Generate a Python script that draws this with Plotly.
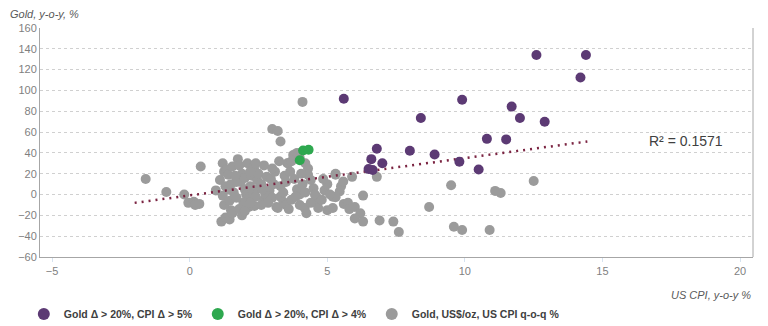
import plotly.graph_objects as go

# Purple: Gold change > 20%, CPI change > 5%
purple_cpi = [5.6, 9.9, 11.7, 12.0, 12.9, 8.4, 10.8, 11.5, 6.8, 8.0, 8.9, 6.6, 7.0, 9.8, 10.5, 6.5, 6.65, 12.6, 14.4, 14.2]
purple_gold = [92, 91, 84.5, 73.5, 70, 73.5, 53.5, 53, 44, 42, 38.5, 34, 30, 31.5, 24, 24.5, 23.5, 134, 134, 112.5]

# Green: Gold change > 20%, CPI change > 4%
green_cpi = [4.0, 4.12, 4.32]
green_gold = [33, 42.3, 43]

# Grey: all observations
grey_cpi = [-1.6, -0.85, -0.2, -0.05, 0.15, 0.35, 0.2, 0.4, 0.95,
            1.1, 1.2, 1.25, 1.35, 1.4, 1.2, 1.15, 1.3, 1.45, 1.5, 1.3, 1.4, 1.5, 1.55, 1.6, 1.25, 1.45, 1.55,
            1.7, 1.75, 1.85, 1.9, 2.1, 2.15, 2.35, 2.35, 1.8, 1.9, 2.0, 2.0, 2.05, 2.1, 1.95, 2.2, 2.25, 2.3,
            2.4, 2.45, 1.7, 1.8, 2.0, 2.2, 2.3, 2.4, 2.5, 2.5, 2.2, 1.65,
            2.6, 2.7, 2.8, 2.95, 3.0, 3.2, 3.3, 3.15, 3.2, 3.25, 3.1, 2.9, 2.75, 3.0, 3.3, 3.4, 3.5, 2.6,
            2.85, 3.05, 3.45, 3.55, 3.3, 3.4, 2.7, 2.65, 3.5, 3.0,
            3.6, 3.58, 3.7, 3.76, 3.9, 4.1, 4.3, 4.3, 4.0, 4.6, 4.67, 4.18, 4.24, 4.67, 3.8, 3.9, 4.1, 4.2,
            4.5, 3.7, 4.0, 4.4, 3.65, 4.05, 4.4, 4.55, 3.85, 4.2, 4.0,
            4.9, 4.8, 5.0, 5.2, 5.2, 5.3, 5.3, 5.45, 5.5, 5.58, 5.3, 5.0, 5.1, 4.85,
            5.6, 5.75, 5.8, 6.0, 5.9, 6.2, 6.0, 6.3, 6.3, 6.8, 6.9, 7.4, 7.6, 8.7, 9.5, 9.6, 9.9, 10.9,
            11.1, 11.3, 12.5]
grey_gold = [15, 2.5, 0, -8, -7, -9, -10, 27, 4,
             14, 30, 22, 24, 19, -1, -26, -22, -24, -15, 8, 5, 10, 27, 2, -10, -6, -18,
             12, 34, 12, -20, 30, -12, -11, 24, 28, 20, 16, 5, 0, -4, -8, 8, 18, 2,
             -2, 14, -3, -14, -16, -8, 26, 30, 20, 6, 22, 18,
             10, -5, 17, 15, 63, 61, 51, -12, -13, 32, 22, 4, 0, -3, 8, -7, 12, -10,
             -8, 10, 18, 30, -2, 2, 28, 5, -10, 25,
             -14, 30, 32, 38, 40, 89, 25, 19, 0, -2, -7, -13, -18, -13, 15, 5, 10, 2,
             6, -5, -10, -8, 22, 20, 14, 0, -2, 30, 35,
             4, -5, -15, -13, -2, 20, 19, 3, 8, 12.5, -2.5, 10, 0, 15,
             -9, -8, -14, -12, 17, -18, -23, -26, -1, 17, -25, -26, -36, -12, 9, -31, -34, -34,
             3.5, 1.5, 13]

# Linear trend line endpoints
trend_cpi = [-2.0, 14.45]
trend_gold = [-8.0, 51.0]
r2_label = "R² = 0.1571"

x_ticks = [-5, 0, 5, 10, 15, 20]
y_ticks = [-60, -40, -20, 0, 20, 40, 60, 80, 100, 120, 140, 160]

FONT = "Liberation Sans"
TXT = "#595959"

fig = go.Figure()
fig.add_trace(go.Scatter(x=grey_cpi, y=grey_gold, mode="markers",
                         name="Gold, US$/oz, US CPI q-o-q %", legendrank=3,
                         marker=dict(color="#9b9b9b", size=10, line=dict(width=0))))
fig.add_trace(go.Scatter(x=trend_cpi, y=trend_gold, mode="lines", showlegend=False,
                         line=dict(color="#7b2442", width=2.5, dash="2px,5px")))
fig.add_trace(go.Scatter(x=purple_cpi, y=purple_gold, mode="markers",
                         name="Gold Δ > 20%, CPI Δ > 5%", legendrank=1,
                         marker=dict(color="#5c3a74", size=10, line=dict(width=0))))
fig.add_trace(go.Scatter(x=green_cpi, y=green_gold, mode="markers",
                         name="Gold Δ > 20%, CPI Δ > 4%", legendrank=2,
                         marker=dict(color="#2ea84f", size=10, line=dict(width=0))))

fig.update_layout(
    width=768, height=326,
    margin=dict(l=40, r=15, t=28, b=69, autoexpand=False),
    paper_bgcolor="white", plot_bgcolor="white",
    font=dict(family=FONT, size=11, color=TXT),
    xaxis=dict(range=[-5.44, 20.47], tickvals=x_ticks, showgrid=False, zeroline=False,
               showline=True, linecolor="#a6a6a6", linewidth=1,
               ticks="outside", tickcolor="#d6e3f0", ticklen=4, tickwidth=1,
               tickfont=dict(size=11, color="#7f7f7f")),
    yaxis=dict(range=[-60, 160], tickvals=y_ticks, showgrid=True, gridcolor="#d0d0d0",
               griddash="dot", gridwidth=1, zeroline=False,
               showline=True, linecolor="#a6a6a6", linewidth=1,
               tickfont=dict(size=11, color="#7f7f7f")),
    legend=dict(orientation="h", xref="container", yref="container", x=0.031, y=1 - 314 / 326,
                xanchor="left", yanchor="middle",
                itemsizing="constant",
                font=dict(family=FONT, size=10.5, color="#404040", weight="bold")),
    showlegend=True,
)

fig.add_shape(type="line", xref="paper", yref="paper", x0=1, x1=1, y0=0, y1=1,
              line=dict(color="#a6a6a6", width=1))

fig.add_annotation(text="Gold, y-o-y, %", xref="paper", yref="paper",
                   x=-0.045, y=(257 - 14) / 229, xanchor="left", yanchor="middle", showarrow=False,
                   font=dict(family=FONT, size=11, color=TXT, style="italic"))
fig.add_annotation(text="US CPI, y-o-y %", xref="paper", yref="paper",
                   x=1, y=(257 - 295) / 229, xanchor="right", yanchor="middle", showarrow=False,
                   font=dict(family=FONT, size=11, color=TXT, style="italic"))
fig.add_annotation(text=r2_label, xref="x", yref="y", x=18.05, y=51.5,
                   xanchor="center", yanchor="middle", showarrow=False,
                   font=dict(family=FONT, size=14, color="#404040"))

fig.write_html("out.html")
